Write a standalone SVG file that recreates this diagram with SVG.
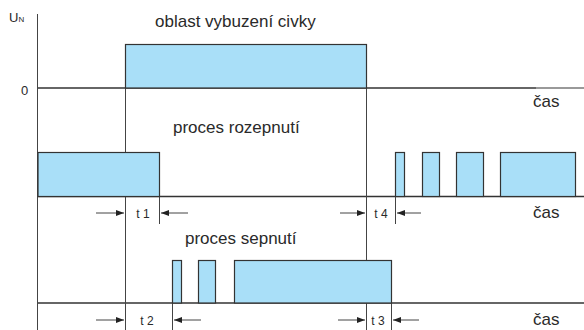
<svg xmlns="http://www.w3.org/2000/svg" width="584" height="330" viewBox="0 0 584 330">
<style>
text{font-family:"Liberation Sans",Arial,sans-serif;fill:#2a2a2a}
.t{font-size:17px}
.s{font-size:12px}
.box{fill:#a9dff8;stroke:#333;stroke-width:1.2}
.base{stroke:#333;stroke-width:1.6;fill:none}
.thin{stroke:#444;stroke-width:1;fill:none}
.ar{stroke:#444;stroke-width:1;fill:none;marker-end:url(#ah)}
</style>
<defs>
<marker id="ah" viewBox="0 0 8 6" refX="8" refY="3" markerWidth="8" markerHeight="6" markerUnits="userSpaceOnUse" orient="auto">
<path d="M0,0 L8,3 L0,6 Z" fill="#222"/>
</marker>
</defs>
<g id="connectors">
<line class="thin" x1="37.5" y1="14" x2="37.5" y2="330"/>
<line class="base" x1="38" y1="88" x2="536" y2="88"/>
<line x1="536" y1="88" x2="584" y2="88" stroke="#777" stroke-width="1.6"/>
<line class="base" x1="38" y1="196.5" x2="584" y2="196.5"/>
<line class="base" x1="38" y1="303" x2="584" y2="303"/>
<line class="thin" x1="125.5" y1="44" x2="125.5" y2="330"/>
<line class="thin" x1="366.5" y1="88" x2="366.5" y2="330"/>
<line class="thin" x1="159.5" y1="196" x2="159.5" y2="224"/>
<line class="thin" x1="395.5" y1="196" x2="395.5" y2="224"/>
<line class="thin" x1="172.5" y1="303" x2="172.5" y2="330"/>
<line class="thin" x1="391.5" y1="303" x2="391.5" y2="330"/>
<line class="ar" x1="96" y1="213" x2="124" y2="213"/>
<line class="ar" x1="188" y1="213" x2="161" y2="213"/>
<line class="ar" x1="340" y1="213" x2="365" y2="213"/>
<line class="ar" x1="421" y1="213" x2="397" y2="213"/>
<line class="ar" x1="96" y1="320" x2="124" y2="320"/>
<line class="ar" x1="201" y1="320" x2="174" y2="320"/>
<line class="ar" x1="338" y1="320" x2="365" y2="320"/>
<line class="ar" x1="419" y1="320" x2="393" y2="320"/>
</g>
<g id="excitation">
<rect class="box" x="125.5" y="44.5" width="241" height="43.5"/>
<text class="t" x="155" y="27">oblast vybuzení civky</text>
</g>
<g id="axis-labels">
<text x="9" y="22" font-size="13">U<tspan font-size="8">N</tspan></text>
<text x="21" y="95" font-size="13">0</text>
<text class="t" x="533" y="107">čas</text>
<text class="t" x="533" y="218">čas</text>
<text class="t" x="533" y="325">čas</text>
</g>
<g id="opening">
<text class="t" x="173" y="133">proces rozepnutí</text>
<rect class="box" x="38" y="152.5" width="121.5" height="44"/>
<rect class="box" x="395.5" y="152.5" width="9" height="44"/>
<rect class="box" x="422.5" y="152.5" width="17" height="44"/>
<rect class="box" x="456.5" y="152.5" width="27" height="44"/>
<rect class="box" x="500.5" y="152.5" width="75" height="44"/>
<text class="s" x="143" y="218" text-anchor="middle">t 1</text>
<text class="s" x="381" y="218" text-anchor="middle">t 4</text>
</g>
<g id="closing">
<text class="t" x="185" y="244">proces sepnutí</text>
<rect class="box" x="172.5" y="260.5" width="9" height="42.5"/>
<rect class="box" x="198.5" y="260.5" width="17" height="42.5"/>
<rect class="box" x="234.5" y="260.5" width="157" height="42.5"/>
<text class="s" x="147" y="325" text-anchor="middle">t 2</text>
<text class="s" x="378" y="325" text-anchor="middle">t 3</text>
</g>
</svg>
